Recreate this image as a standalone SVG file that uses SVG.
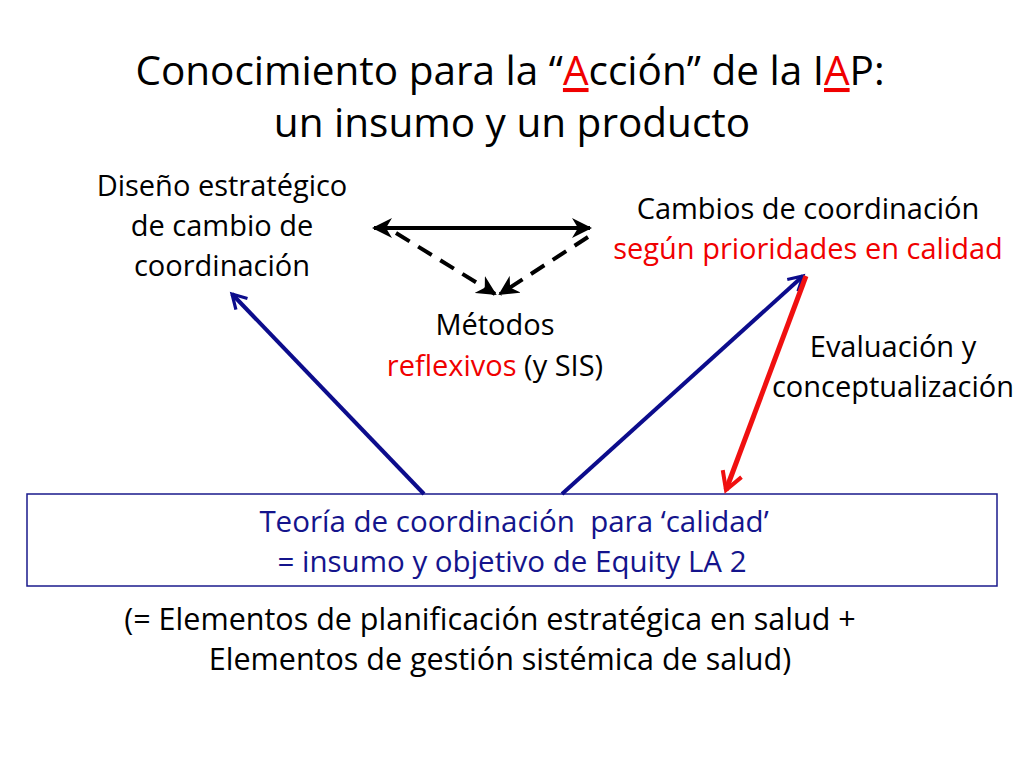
<svg xmlns="http://www.w3.org/2000/svg" width="1024" height="768" viewBox="0 0 1024 768">
<defs>
<style>
text{font-family:"Open Sans","Liberation Sans",sans-serif;text-anchor:middle;}
.t{font-size:40.5px;fill:#000;}
.n{font-size:29px;fill:#000;}
.bx{font-size:29.5px;}
.b{font-size:30.5px;fill:#000;}
.red{fill:#f00000;}
.bl{fill:#14148c;}
.blue{stroke:#0c0c8c;stroke-width:4;fill:none;}
</style>
<marker id="hb" viewBox="0 0 10 10" refX="8" refY="5" markerWidth="5" markerHeight="5" orient="auto-start-reverse" markerUnits="strokeWidth"><path d="M1,1 L8,5 L1,9" fill="none" stroke="#0c0c8c" stroke-width="1.6"/></marker>
<marker id="hk" viewBox="0 0 10 10" refX="9" refY="5" markerWidth="5" markerHeight="5" orient="auto-start-reverse" markerUnits="strokeWidth"><path d="M0,0 L10,5 L0,10 L3,5 z" fill="#000"/></marker>
<marker id="hr" viewBox="0 0 10 10" refX="8" refY="5" markerWidth="5" markerHeight="5" orient="auto-start-reverse" markerUnits="strokeWidth"><path d="M1,1 L8,5 L1,9" fill="none" stroke="#f01010" stroke-width="1.6"/></marker>
</defs>
<rect width="1024" height="768" fill="#fff"/>
<g id="title">
<text class="t" x="510" y="85">Conocimiento para la “<tspan class="red" text-decoration="underline">A</tspan>cción” de la I<tspan class="red" text-decoration="underline">A</tspan>P:</text>
<text class="t" x="512" y="137">un insumo y un producto</text>
</g>
<g id="diseno"><text class="n" x="222" y="196">Diseño estratégico</text><text class="n" x="222" y="236">de cambio de</text><text class="n" x="222" y="276">coordinación</text></g>
<g id="cambios"><text class="n" x="808" y="219">Cambios de coordinación</text><text class="n red" x="808" y="259">según prioridades en calidad</text></g>
<g id="metodos"><text class="n" x="495" y="335">Métodos</text><text class="n" x="495" y="376"><tspan class="red">reflexivos</tspan> (y SIS)</text></g>
<g id="evaluacion"><text class="n" x="893" y="357">Evaluación y</text><text class="n" x="893" y="397">conceptualización</text></g>
<g id="teoria">
<rect x="27" y="494" width="970" height="92" fill="#fff" stroke="#1a1a8c" stroke-width="1.5"/>
<text class="n bx bl" x="514" y="532">Teoría de coordinación&#160; para ‘calidad’</text>
<text class="n bx bl" x="512" y="572">= insumo y objetivo de Equity LA 2</text>
</g>
<g id="nota"><text class="b" x="490" y="630">(= Elementos de planificación estratégica en salud +</text><text class="b" x="500" y="670">Elementos de gestión sistémica de salud)</text></g>
<g id="connectors">
<line x1="374" y1="228" x2="590" y2="228" stroke="#000" stroke-width="4" marker-start="url(#hk)" marker-end="url(#hk)"/>
<line x1="396" y1="233" x2="495" y2="294" stroke="#000" stroke-width="4" stroke-dasharray="16,10" marker-end="url(#hk)"/>
<line x1="588" y1="237" x2="500" y2="294" stroke="#000" stroke-width="4" stroke-dasharray="16,10" marker-end="url(#hk)"/>
<line class="blue" x1="424" y1="494" x2="232" y2="294" marker-end="url(#hb)"/>
<line class="blue" x1="562" y1="494" x2="803" y2="276" marker-end="url(#hb)"/>
<line x1="806" y1="276" x2="726" y2="490" stroke="#f01010" stroke-width="5" marker-end="url(#hr)"/>
</g>
</svg>
